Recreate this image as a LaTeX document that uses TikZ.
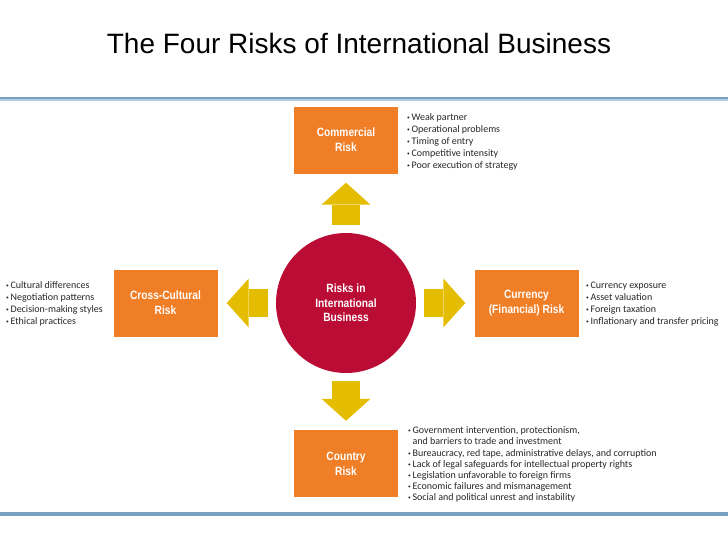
\documentclass[tikz,border=0pt]{standalone}
\usepackage{fontspec}
\setmainfont{Liberation Sans}
\newfontfamily\labelfont[FakeStretch=0.85]{Liberation Sans}
\newfontfamily\listfont{Carlito}
\usetikzlibrary{arrows.meta}

\definecolor{riskorange}{RGB}{240,126,38}
\definecolor{arrowgold}{RGB}{229,189,0}
\definecolor{hubred}{RGB}{186,12,52}
\definecolor{ruleblue}{RGB}{120,160,192}
\definecolor{ruleblue2}{RGB}{175,205,228}
\newcommand{\bul}{\raisebox{1pt}{\scalebox{.55}{•}}\,}

\begin{document}
\begin{tikzpicture}[x=1pt,y=-1pt]
            \tikzset{riskbox/.style = {fill=riskorange, minimum width=104pt, minimum height=67pt, inner sep=0pt, text=white, align=center, font=\labelfont\bfseries\fontsize{12}{15}\selectfont}}
            \tikzset{hub/.style = {circle, fill=hubred, minimum size=140pt, inner sep=0pt, text=white, align=center, font=\labelfont\bfseries\fontsize{12}{14.5}\selectfont}}
            \tikzset{points/.style = {anchor=north west, inner sep=0pt, align=left, text=black!85, font=\listfont\fontsize{10}{12}\selectfont}}
            \tikzset{bigarrow/.style = {draw=arrowgold, line width=28pt, -{Triangle[width=49pt,length=22pt,line width=0pt]}, shorten <=8pt, shorten >=9pt}}
            \useasboundingbox (0,0) rectangle (728,546);
            % title and rules
            \node[font=\fontsize{28}{32}\selectfont, text=black] (title) at (359,43) {The Four Risks of International Business};
            \fill[ruleblue] (0,96.5) rectangle (728,99.2);
            \fill[ruleblue2] (0,99.2) rectangle (728,100.8);
            \fill[ruleblue] (0,512) rectangle (728,515.5);
            % vertices
            \node[hub] (hub) at (346,303) {Risks in\\International\\Business};
            \node[riskbox] (comm) at (346,140) {Commercial\\Risk};
            \node[riskbox] (cult) at (165.5,303) {Cross-Cultural\\Risk};
            \node[riskbox] (curr) at (526.5,303) {Currency\\(Financial) Risk};
            \node[riskbox] (ctry) at (346,463.5) {Country\\Risk};
            % lists
            \node[points] (commlist) at (407,113.5) {\bul Weak partner\\\bul Operational problems\\\bul Timing of entry\\\bul Competitive intensity\\\bul Poor execution of strategy};
            \node[points] (cultlist) at (6,281.5) {\bul Cultural differences\\\bul Negotiation patterns\\\bul Decision-making styles\\\bul Ethical practices};
            \node[points] (currlist) at (586,281.5) {\bul Currency exposure\\\bul Asset valuation\\\bul Foreign taxation\\\bul Inflationary and transfer pricing};
            \node[points, font=\listfont\fontsize{10}{11.2}\selectfont] (ctrylist) at (408,426.5) {\bul Government intervention, protectionism,\\\phantom{\bul}and barriers to trade and investment\\\bul Bureaucracy, red tape, administrative delays, and corruption\\\bul Lack of legal safeguards for intellectual property rights\\\bul Legislation unfavorable to foreign firms\\\bul Economic failures and mismanagement\\\bul Social and political unrest and instability};
            % edges
            \draw[bigarrow] (hub) -- (comm);
            \draw[bigarrow] (hub) -- (cult);
            \draw[bigarrow] (hub) -- (curr);
            \draw[bigarrow] (hub) -- (ctry);
        \end{tikzpicture}
\end{document}
